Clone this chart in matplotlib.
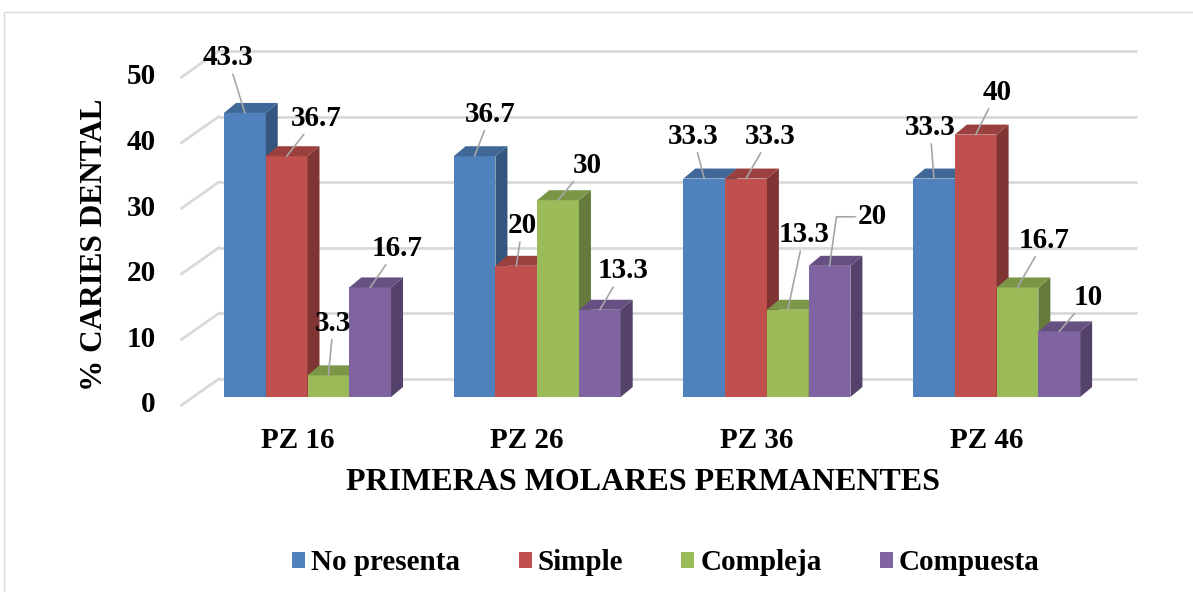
import numpy as np
import matplotlib.pyplot as plt
from matplotlib.patches import Polygon, Rectangle

plt.rcParams['font.family'] = ['Liberation Serif', 'DejaVu Serif']
plt.rcParams['font.weight'] = 'bold'

categories = ['PZ 16', 'PZ 26', 'PZ 36', 'PZ 46']
series = ['No presenta', 'Simple', 'Compleja', 'Compuesta']
no_presenta = [43.3, 36.7, 33.3, 33.3]
simple = [36.7, 20, 33.3, 40]
compleja = [3.3, 30, 13.3, 16.7]
compuesta = [16.7, 13.3, 20, 10]
y_ticks = [0, 10, 20, 30, 40, 50]

values = [no_presenta, simple, compleja, compuesta]
colors = ['#4F81BD', '#C0504D', '#9BBB59', '#8064A2']

# label offsets in pixels (dx right, dy up) from the top of each bar
label_offsets = [
    [(-17, 55), (16, 42), (-11, 42), (-4, 51)],
    [(30, 38), (6, 40), (24, 42), (21, 42)],
    [(5, 52), (29, 35), (16, 75), (27, 47)],
    [(27, 39), (23, 39), (43, 49), (29, 34)],
]

W, H = 1193, 592
fig = plt.figure(figsize=(W / 100, H / 100), dpi=100)
fig.patch.set_facecolor('white')
ax = fig.add_axes([192.65 / W, 195 / H, 918.8 / W, 328 / H])
ax.set_xlim(-0.5, 3.5)
ax.set_ylim(0, 50)
ax.set_axis_off()

# pixel -> data unit conversion for the fake 3D depth
p0 = ax.transData.transform((0, 0))
p1 = ax.transData.transform((1, 1))
px_x, px_y = p1 - p0


def depth(dx, dy):
    return dx / px_x, dy / px_y


bar_d = depth(12, 10)
wall_back = depth(26, 18)
wall_front = depth(-11, -8)

grid_c = '#D9D9D9'
for t in y_ticks:
    ax.plot([-0.5 + wall_back[0], 3.5 + wall_back[0]], [t + wall_back[1]] * 2,
            color=grid_c, lw=2, zorder=0, clip_on=False, solid_capstyle='butt')
    ax.plot([-0.5 + wall_front[0], -0.5 + wall_back[0]],
            [t + wall_front[1], t + wall_back[1]],
            color=grid_c, lw=2, zorder=0, clip_on=False)
    ax.text(-0.5 + wall_front[0] - 26 / px_x, t + wall_front[1], str(t),
            ha='right', va='center', fontsize=21, fontweight='bold')


def shade(c, f):
    rgb = np.array(plt.matplotlib.colors.to_rgb(c))
    return tuple(rgb * f)


width = 0.1818
x = np.arange(len(categories))
for gi in range(len(categories)):
    for si in range(len(series)):
        v = values[si][gi]
        xc = x[gi] + (si - 1.5) * width
        x0, x1 = xc - width / 2, xc + width / 2
        z = 2 + gi * 10 + si
        ax.bar(xc, v, width=width, color=colors[si], zorder=z, lw=0,
               label=series[si] if gi == 0 else None)
        dx, dy = bar_d
        side = [(x1, 0), (x1 + dx, dy), (x1 + dx, v + dy), (x1, v)]
        top = [(x0, v), (x1, v), (x1 + dx, v + dy), (x0 + dx, v + dy)]
        ax.add_patch(Polygon(side, closed=True, fc=shade(colors[si], 0.66),
                             lw=0, zorder=z, clip_on=False))
        ax.add_patch(Polygon(top, closed=True, fc=shade(colors[si], 0.8),
                             lw=0, zorder=z, clip_on=False))

        ox, oy = label_offsets[si][gi]
        arrow = dict(arrowstyle='-', color='#A6A6A6', lw=1.2, shrinkA=0, shrinkB=0)
        if gi == 2 and si == 3:
            arrow.update(connectionstyle='angle,angleA=0,angleB=82,rad=0',
                         relpos=(0, 0.5))
        ax.annotate(f'{v:g}', xy=(xc, v), xytext=(ox, oy),
                    textcoords='offset pixels', ha='center', va='center',
                    fontsize=21, fontweight='bold', zorder=100,
                    arrowprops=arrow, annotation_clip=False)

for gi, cat in enumerate(categories):
    ax.annotate(cat, xy=(x[gi], 0), xytext=(-10, -44), textcoords='offset pixels',
                ha='center', va='center', fontsize=21, fontweight='bold',
                annotation_clip=False)

fig.text(643 / W, 1 - 482 / H, 'PRIMERAS MOLARES PERMANENTES', ha='center',
         va='center', fontsize=23, fontweight='bold')
fig.text(95 / W, 1 - 245 / H, '% CARIES DENTAL', ha='center', va='center',
         rotation=90, fontsize=22.5, fontweight='bold')

fig.legend(loc='center', bbox_to_anchor=(666 / W, 1 - 563 / H), ncol=4,
           frameon=False, fontsize=21, handlelength=0.45, handleheight=0.45,
           handletextpad=0.2, columnspacing=2.0,
           prop={'weight': 'bold', 'size': 21})

# outer chart border
fig.patches.append(Rectangle((4 / W, -0.1), 1.2, 1 - 12 / H + 0.1,
                             transform=fig.transFigure, fill=False,
                             ec='#D9D9D9', lw=1))

fig.savefig('out.png', dpi=100)
